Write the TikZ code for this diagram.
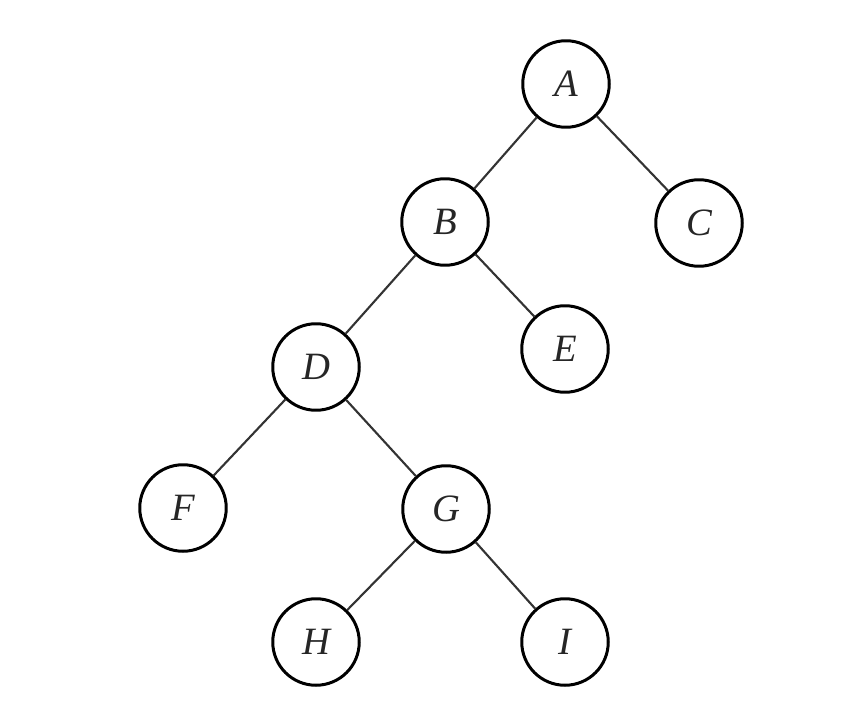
\documentclass[tikz,border=0pt]{standalone}
\usepackage{fontspec}
\setmainfont{Liberation Serif}
\usepackage{tikz}

\begin{document}
\begin{tikzpicture}[
    nodo/.style={draw, circle, line width=1.7pt, minimum size=1.73cm, inner sep=0pt,
                 text=black!85, font=\fontsize{22}{26}\selectfont\itshape},
    arista/.style={line width=1.2pt, draw=black!80}
  ]
            \useasboundingbox (0,0) rectangle (17,14.42);

            % Nodos del arbol
            \node[nodo] (A) at (11.32,12.74) {A};
            \node[nodo] (B) at (8.90,9.98) {B};
            \node[nodo] (C) at (13.98,9.96) {C};
            \node[nodo] (D) at (6.32,7.08) {D};
            \node[nodo] (E) at (11.30,7.44) {E};
            \node[nodo] (F) at (3.66,4.26) {F};
            \node[nodo] (G) at (8.92,4.24) {G};
            \node[nodo] (H) at (6.32,1.58) {H};
            \node[nodo] (I) at (11.30,1.58) {I};

            % Aristas
            \draw[arista] (A) -- (B);
            \draw[arista] (A) -- (C);
            \draw[arista] (B) -- (D);
            \draw[arista] (B) -- (E);
            \draw[arista] (D) -- (F);
            \draw[arista] (D) -- (G);
            \draw[arista] (G) -- (H);
            \draw[arista] (G) -- (I);
        \end{tikzpicture}
\end{document}
